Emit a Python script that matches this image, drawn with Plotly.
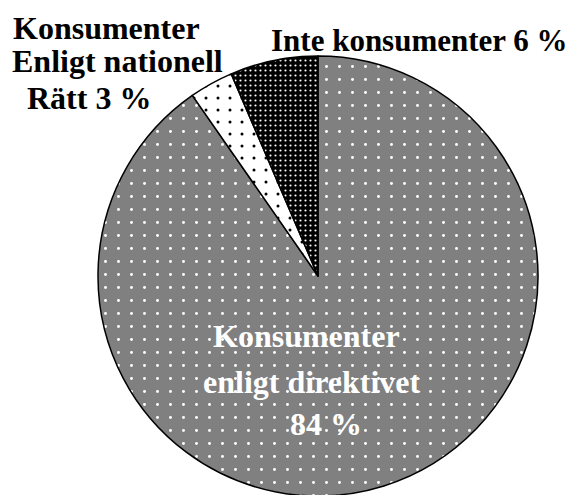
import plotly.graph_objects as go

# slice data, clockwise from 12 o'clock
labels = ["Konsumenter enligt direktivet", "Konsumenter enligt nationell rätt", "Inte konsumenter"]
values = [84, 3, 6]
fill_colors = ["#808080", "#ffffff", "#000000"]
dot_colors = ["#ffffff", "#000000", "#ffffff"]

W, H = 576, 495
OFF = 8  # default body margin of the page shifts the figure

fig = go.Figure()

fig.add_trace(go.Pie(
    labels=labels,
    values=values,
    sort=False,
    direction="clockwise",
    rotation=0,
    textinfo="none",
    hoverinfo="label+value",
    showlegend=False,
    domain=dict(x=[90 / W, 530 / W], y=[1 - 488 / H, 1 - 48 / H]),
    marker=dict(
        colors=fill_colors,
        line=dict(color="black", width=1.5),
        pattern=dict(
            shape=[".", ".", "."],
            fillmode="replace",
            bgcolor=fill_colors,
            fgcolor=dot_colors,
            size=[13, 12, 5],
            solidity=[0.04, 0.05, 0.15],
        ),
    ),
))

font = dict(family="Liberation Serif", size=32, color="black")
font_b = dict(family="Liberation Serif", size=31, color="black")
white_font = dict(family="Liberation Serif", size=32, color="white")

# label text, one line per annotation: (text, x px, y px, font)
label_lines = [
    ("<b>Enligt nationell</b>", 117, 61, font),
    ("<b>Rätt 3 %</b>", 89, 98, font),
    ("<b>Inte konsumenter 6 %</b>", 419, 41, font_b),
    ("<b>Konsumenter</b>", 306, 336, white_font),
    ("<b>enligt direktivet</b>", 312, 382, white_font),
    ("<b>84 %</b>", 326, 424, white_font),
]

for text, x, y, f in label_lines:
    fig.add_annotation(
        text=text, x=(x - OFF) / W, y=1 - (y - OFF) / H, xref="paper", yref="paper",
        xanchor="center", yanchor="middle", showarrow=False, font=f,
    )

# first line sits at the very top, anchor it to the top edge
fig.add_annotation(
    text="<b>Konsumenter</b>", x=(106 - OFF) / W, y=1.0, xref="paper", yref="paper",
    xanchor="center", yanchor="top", showarrow=False, font=font,
)

fig.update_layout(
    width=W, height=H,
    margin=dict(l=0, r=0, t=0, b=0),
    paper_bgcolor="white",
    plot_bgcolor="white",
)

fig.write_html("out.html")
